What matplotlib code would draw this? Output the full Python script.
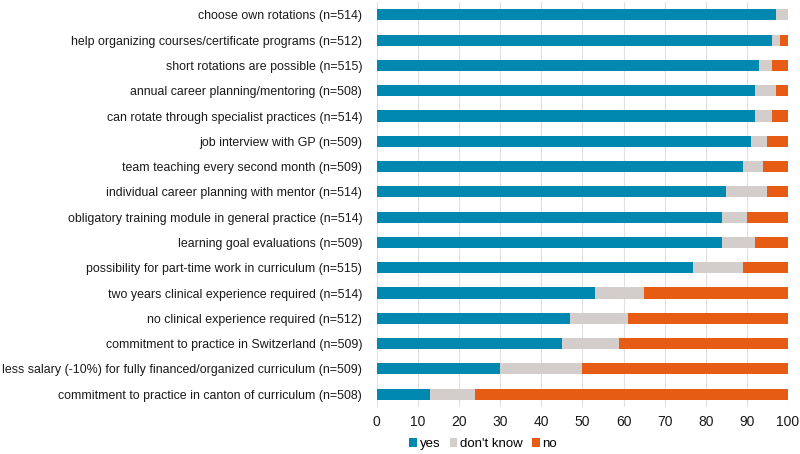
import numpy as np
import matplotlib.pyplot as plt

# items, top to bottom
labels = [
    "choose own rotations (n=514)",
    "help organizing courses/certificate programs (n=512)",
    "short rotations are possible (n=515)",
    "annual career planning/mentoring (n=508)",
    "can rotate through specialist practices (n=514)",
    "job interview with GP (n=509)",
    "team teaching every second month (n=509)",
    "individual career planning with mentor (n=514)",
    "obligatory training module in general practice (n=514)",
    "learning goal evaluations (n=509)",
    "possibility for part-time work in curriculum (n=515)",
    "two years clinical experience required (n=514)",
    "no clinical experience required (n=512)",
    "commitment to practice in Switzerland (n=509)",
    "less salary (-10%) for fully financed/organized curriculum (n=509)",
    "commitment to practice in canton of curriculum (n=508)",
]
yes = [97, 96, 93, 92, 92, 91, 89, 85, 84, 84, 77, 53, 47, 45, 30, 13]
dont_know = [3, 2, 3, 5, 4, 4, 5, 10, 6, 8, 12, 12, 14, 14, 20, 11]
no = [0, 2, 4, 3, 4, 5, 6, 5, 10, 8, 11, 35, 39, 41, 50, 76]

plt.rcParams['font.family'] = ['Liberation Sans', 'DejaVu Sans']

fig = plt.figure(figsize=(8, 4.54), dpi=100)
ax = fig.add_axes([0.471, 0.104, 0.514, 0.891])

y = np.arange(len(labels))
yes = np.array(yes)
dk = np.array(dont_know)
no = np.array(no)
h = 0.44
ax.barh(y, yes, height=h, color="#0088b0", label="yes", zorder=2)
ax.barh(y, dk, left=yes, height=h, color="#d3cdcb", label="don't know", zorder=2)
ax.barh(y, no, left=yes + dk, height=h, color="#e75c14", label="no", zorder=2)

ax.set_xlim(0, 100)
ax.set_ylim(len(labels) - 0.5, -0.5)
ax.set_xticks(range(0, 101, 10))
ax.set_yticks(y)
ax.set_yticklabels(labels)
ax.tick_params(axis="both", length=0, colors="#1a1a1a")
ax.tick_params(axis="y", pad=10.5, labelsize=8.95)
ax.tick_params(axis="x", pad=6, labelsize=10)
ax.grid(axis="x", color="#e0e0e0", linewidth=0.8, zorder=0)
for s in ax.spines.values():
    s.set_visible(False)

fig.legend(loc="center", bbox_to_anchor=(0.604, 0.022), ncol=3, frameon=False,
           fontsize=9.5, handlelength=0.6, handleheight=0.6, handletextpad=0.2,
           columnspacing=0.7)

fig.savefig("out.png", dpi=100)
